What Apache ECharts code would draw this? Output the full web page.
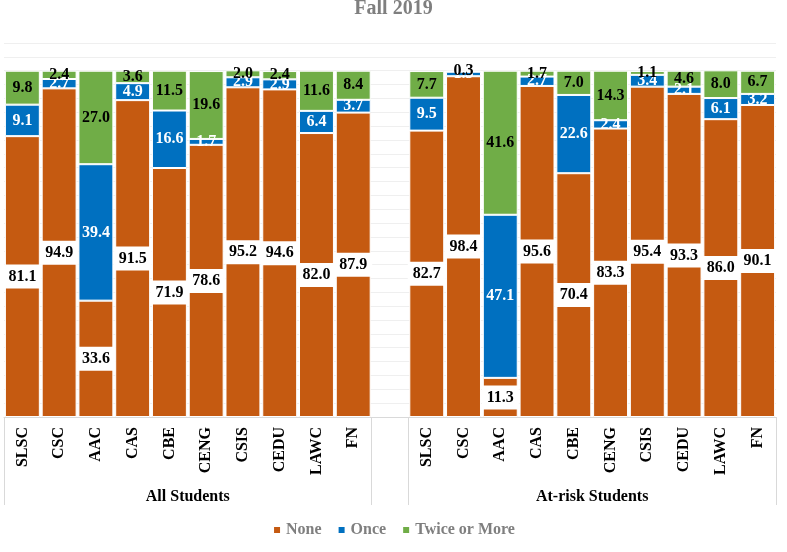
<!DOCTYPE html>
<html>
<head>
<meta charset="utf-8">
<script src="https://cdn.jsdelivr.net/npm/echarts@6/dist/echarts.min.js"></script>
<style>html,body{margin:0;padding:0;background:#fff}#c{width:787px;height:552px}</style>
</head>
<body>
<div id="c"></div>
<script>
var colleges = ['SLSC','CSC','AAC','CAS','CBE','CENG','CSIS','CEDU','LAWC','FN'];
var groups = ['All Students','At-risk Students'];
var seriesNames = ['None','Once','Twice or More'];
var allNone  = [81.1, 94.9, 33.6, 91.5, 71.9, 78.6, 95.2, 94.6, 82.0, 87.9];
var allOnce  = [9.1, 2.7, 39.4, 4.9, 16.6, 1.7, 2.9, 2.9, 6.4, 3.7];
var allTwice = [9.8, 2.4, 27.0, 3.6, 11.5, 19.6, 2.0, 2.4, 11.6, 8.4];
var riskNone  = [82.7, 98.4, 11.3, 95.6, 70.4, 83.3, 95.4, 93.3, 86.0, 90.1];
var riskOnce  = [9.5, 1.3, 47.1, 2.7, 22.6, 2.4, 3.4, 2.1, 6.1, 3.2];
var riskTwice = [7.7, 0.3, 41.6, 1.7, 7.0, 14.3, 1.1, 4.6, 8.0, 6.7];

var FONT = 'Liberation Serif';
var cats = colleges.concat([''], colleges);
function join(a, b) { return a.concat(['-'], b); }
var colors = ['#C55A11', '#0070C0', '#70AD47'];
var dataSets = [join(allNone, riskNone), join(allOnce, riskOnce), join(allTwice, riskTwice)];
var labelStyles = [
  {color: '#000', backgroundColor: '#fff', padding: [4, 5]},
  {color: '#fff'},
  {color: '#000'}
];

var series = seriesNames.map(function (n, i) {
  return {
    name: n, type: 'bar', stack: 'total', data: dataSets[i],
    barCategoryGap: '5%',
    itemStyle: {color: colors[i], borderColor: '#fff', borderWidth: 1},
    label: Object.assign({
      show: true, position: 'inside', fontFamily: FONT, fontWeight: 'bold', fontSize: 16,
      formatter: function (p) { return Number(p.value).toFixed(1); }
    }, labelStyles[i])
  };
});

var chart = echarts.init(document.getElementById('c'), null, {renderer: 'canvas'});
chart.setOption({
  animation: false,
  color: colors,
  title: {text: 'Fall 2019', left: 'center', top: -6,
    textStyle: {fontFamily: FONT, fontWeight: 'bold', fontSize: 20, color: '#7f7f7f'}},
  legend: {bottom: 9, left: 'center', icon: 'rect', itemWidth: 8, itemHeight: 8, itemGap: 15,
    data: seriesNames,
    textStyle: {fontFamily: FONT, fontWeight: 'bold', fontSize: 16, color: '#7f7f7f'}},
  grid: {left: 4, right: 11, top: 43, bottom: 135, containLabel: false},
  xAxis: [{
    type: 'category', data: cats,
    axisLine: {show: true, lineStyle: {color: '#d9d9d9'}},
    axisTick: {show: false},
    axisLabel: {rotate: 90, interval: 0, margin: 10, fontFamily: FONT, fontWeight: 'bold', fontSize: 16, color: '#000'}
  }, {
    type: 'value', min: 0, max: 21, position: 'bottom',
    axisLine: {show: false}, splitLine: {show: false},
    axisTick: {show: true, customValues: [0, 10, 11, 21], length: 88, lineStyle: {color: '#d9d9d9'}},
    axisLabel: {show: true, customValues: [5, 16], margin: 72, fontFamily: FONT, fontWeight: 'bold', fontSize: 16, color: '#000',
      formatter: function (v) { return v < 10 ? groups[0] : groups[1]; }}
  }],
  yAxis: {type: 'value', min: 0, max: 108, interval: 4,
    axisLabel: {show: false}, axisLine: {show: false}, axisTick: {show: false},
    splitLine: {show: true, lineStyle: {color: '#efefef'}}},
  series: series
});
</script>
</body>
</html>
